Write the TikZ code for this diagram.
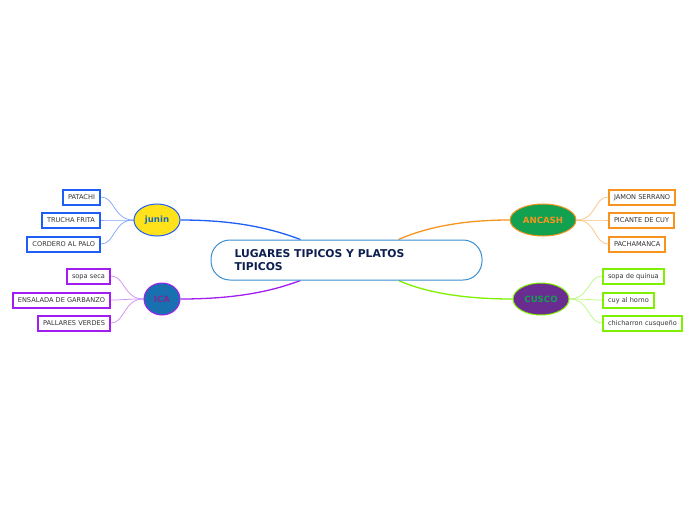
\documentclass[tikz,border=0pt]{standalone}
\usepackage{fontspec}
\setmainfont{DejaVu Sans}
\usetikzlibrary{shapes.geometric,backgrounds}
\definecolor{cblue}{HTML}{1F5EF5}
\definecolor{cbluel}{HTML}{7FA4F8}
\definecolor{cyell}{HTML}{FFE21A}
\definecolor{cjtxt}{HTML}{1A6CB8}
\definecolor{cpurp}{HTML}{A21EF0}
\definecolor{cpurpl}{HTML}{CF8BF6}
\definecolor{cicaf}{HTML}{1870B0}
\definecolor{cicat}{HTML}{7B2D8F}
\definecolor{corng}{HTML}{F7941D}
\definecolor{corngl}{HTML}{FAC27E}
\definecolor{cgreen}{HTML}{12A150}
\definecolor{cvio}{HTML}{6A2C91}
\definecolor{clime}{HTML}{7FF000}
\definecolor{climel}{HTML}{B9F77A}
\definecolor{croot}{HTML}{3A8FD0}
\definecolor{crtxt}{HTML}{0D1F4F}
\definecolor{cleaf}{HTML}{333333}
\tikzset{
  leafbox/.style={draw, line width=2pt, fill=white, minimum height=15pt, inner xsep=5pt, inner ysep=0pt, text height=4.8pt, text depth=0pt, font=\fontsize{6.6}{8}\selectfont, text=cleaf},
  region/.style={ellipse, line width=1pt, inner sep=0pt, font=\fontsize{8.6}{10}\selectfont\bfseries},
  mainline/.style={line width=1.3pt},
  twig/.style={line width=0.7pt}
}
\begin{document}
\begin{tikzpicture}[x=1pt,y=-1pt]
\useasboundingbox (0,0) rectangle (696,520);
% root
\node[draw=croot, line width=1pt, rounded corners=19pt, fill=white, minimum width=271pt, minimum height=40pt, inner sep=0pt] (root) at (346.5,260) {};
\node[anchor=west, align=left, text=crtxt, font=\fontsize{10.8}{13}\selectfont\bfseries] (roottxt) at (231,260.5) {LUGARES TIPICOS Y PLATOS\\TIPICOS};
% regions
\node[region, draw=cblue, fill=cyell, text=cjtxt, minimum width=46pt, minimum height=32pt] (junin) at (157,220) {junin};
\node[region, draw=cpurp, fill=cicaf, text=cicat, minimum width=36pt, minimum height=32pt] (ica) at (162,299) {ICA};
\node[region, draw=corng, fill=cgreen, text=corng, minimum width=66pt, minimum height=32pt] (ancash) at (543,220) {ANCASH};
\node[region, draw=clime, fill=cvio, text=cgreen, minimum width=56pt, minimum height=32pt] (cusco) at (541,299) {CUSCO};
% main connectors
\begin{scope}[on background layer]
\draw[mainline, cblue] (junin.east) .. controls (240,220) and (275,230) .. ([xshift=-46pt]root.north);
\draw[mainline, cpurp] (ica.east) .. controls (240,299) and (275,290) .. ([xshift=-46pt]root.south);
\draw[mainline, corng] (ancash.west) .. controls (455,220) and (420,230) .. ([xshift=52pt]root.north);
\draw[mainline, clime] (cusco.west) .. controls (455,299) and (420,290) .. ([xshift=52pt]root.south);
\end{scope}
% junin leaves
\node[leafbox, draw=cblue, anchor=east] (l1) at (101,197) {PATACHI};
\node[leafbox, draw=cblue, anchor=east] (l2) at (101,220) {TRUCHA FRITA};
\node[leafbox, draw=cblue, anchor=east] (l3) at (101,244) {CORDERO AL PALO};
% ica leaves
\node[leafbox, draw=cpurp, anchor=east] (i1) at (111,276) {sopa seca};
\node[leafbox, draw=cpurp, anchor=east] (i2) at (111,300) {ENSALADA DE GARBANZO};
\node[leafbox, draw=cpurp, anchor=east] (i3) at (111,323) {PALLARES VERDES};
% ancash leaves
\node[leafbox, draw=corng, anchor=west] (a1) at (608,197) {JAMON SERRANO};
\node[leafbox, draw=corng, anchor=west] (a2) at (608,220) {PICANTE DE CUY};
\node[leafbox, draw=corng, anchor=west] (a3) at (608,244) {PACHAMANCA};
% cusco leaves
\node[leafbox, draw=clime, anchor=west] (c1) at (602,276) {sopa de quinua};
\node[leafbox, draw=clime, anchor=west] (c2) at (602,300) {cuy al horno};
\node[leafbox, draw=clime, anchor=west] (c3) at (602,323) {chicharron cusqueño};
% twigs
\begin{scope}[on background layer]
\foreach \n in {l1,l2,l3}{
  \draw[twig, cbluel] (junin.west) .. controls +(-20,0) and +(14,0) .. (\n.east);
}
\foreach \n in {i1,i2,i3}{
  \draw[twig, cpurpl] (ica.west) .. controls +(-20,0) and +(14,0) .. (\n.east);
}
\foreach \n in {a1,a2,a3}{
  \draw[twig, corngl] (ancash.east) .. controls +(20,0) and +(-14,0) .. (\n.west);
}
\foreach \n in {c1,c2,c3}{
  \draw[twig, climel] (cusco.east) .. controls +(20,0) and +(-14,0) .. (\n.west);
}
\end{scope}
\end{tikzpicture}
\end{document}
